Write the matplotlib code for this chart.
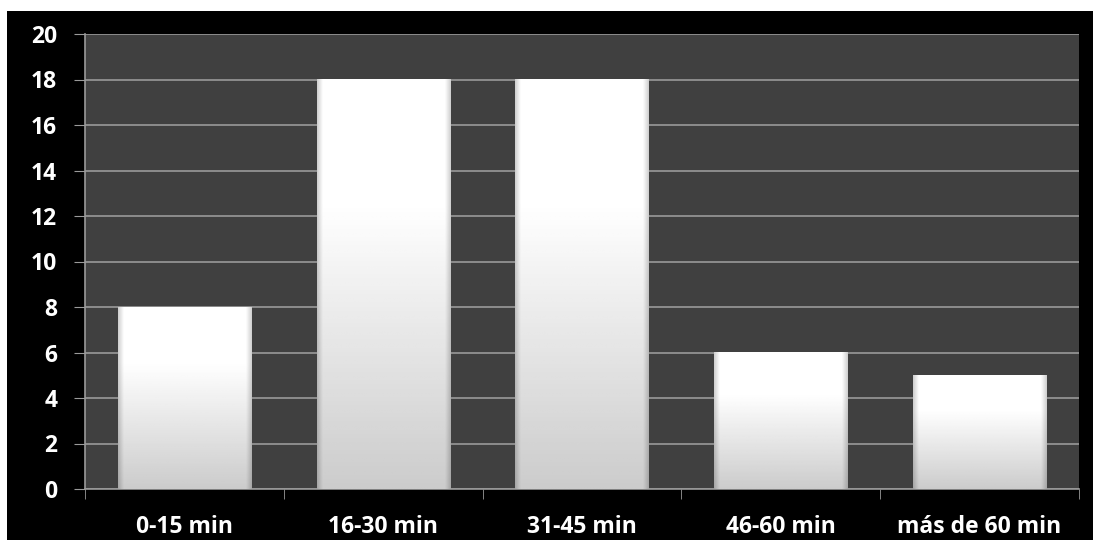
import numpy as np
import matplotlib.pyplot as plt
from matplotlib.patches import Rectangle

# tiempo de traslado
categorias = ['0-15 min', '16-30 min', '31-45 min', '46-60 min', 'más de 60 min']
valores = [8, 18, 18, 6, 5]

plt.rcParams['font.family'] = ['Open Sans', 'DejaVu Sans']

fig = plt.figure(figsize=(10.93, 5.40), dpi=100, facecolor='black')
# bordes blancos (recorte de la imagen original)
fig.patches.append(Rectangle((0, 1 - 11 / 540), 1, 11 / 540, transform=fig.transFigure,
                             facecolor='white', edgecolor='none', zorder=0))
fig.patches.append(Rectangle((0, 0), 7 / 1093, 1, transform=fig.transFigure,
                             facecolor='white', edgecolor='none', zorder=0))

ax = fig.add_axes([85 / 1093, 51 / 540, 994 / 1093, 455 / 540])
ax.set_facecolor('#404040')

x = np.arange(len(categorias))
ancho = 0.67
bars = ax.bar(x, valores, width=ancho, color='none', zorder=3)

# degradado de las barras
v = np.concatenate([np.ones(30), np.linspace(1.0, 0.80, 70)])[:, None]
t = np.linspace(0, 1, 120)
h = 1 - 0.18 * np.clip(1 - np.minimum(t, 1 - t) / 0.04, 0, 1)
grad = v * h[None, :]
for b in bars:
    x0, w, hh = b.get_x(), b.get_width(), b.get_height()
    ax.imshow(grad, cmap='gray', vmin=0, vmax=1, extent=[x0, x0 + w, 0, hh],
              aspect='auto', origin='upper', zorder=3, interpolation='bilinear')

ax.set_xlim(-0.5, len(categorias) - 0.5)
ax.set_ylim(0, 20)
ax.set_yticks(range(0, 21, 2))
ax.yaxis.grid(True, color='#9a9a9a', linewidth=1.2)
ax.set_axisbelow(True)

ax.set_xticks(x)
ax.set_xticklabels(categorias)
ax.set_xticks(np.arange(-0.5, len(categorias), 1), minor=True)
ax.tick_params(axis='x', which='major', length=0, pad=19, labelsize=16.5, labelcolor='white')
ax.tick_params(axis='x', which='minor', length=7, color='#9a9a9a', direction='out')
ax.tick_params(axis='y', length=8, color='#9a9a9a', labelsize=16.5, labelcolor='white', pad=12)
for lbl in ax.get_xticklabels() + ax.get_yticklabels():
    lbl.set_fontweight('bold')

for s in ['top', 'right']:
    ax.spines[s].set_visible(False)
for s in ['left', 'bottom']:
    ax.spines[s].set_color('#9a9a9a')
    ax.spines[s].set_linewidth(1.2)

fig.savefig('out.png', dpi=100, facecolor=fig.get_facecolor())
